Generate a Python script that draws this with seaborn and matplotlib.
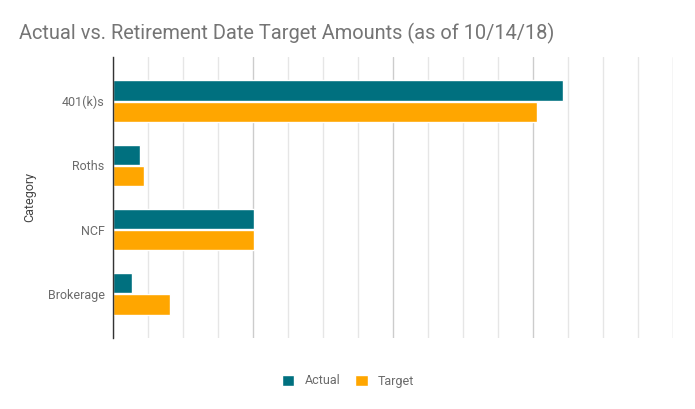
import pandas as pd
import seaborn as sns
import matplotlib.pyplot as plt
from matplotlib.ticker import MultipleLocator

# values (no axis labels shown, grid unit = 10,000)
categories = ['401(k)s', 'Roths', 'NCF', 'Brokerage']
actual = [128500, 7700, 40300, 5400]
target = [121000, 8900, 40300, 16300]

df = pd.DataFrame({
    'Category': categories * 2,
    'Amount': actual + target,
    'Series': ['Actual'] * 4 + ['Target'] * 4,
})

sns.set_theme(style='white')
plt.rcParams['font.family'] = ['Roboto', 'DejaVu Sans']

fig = plt.figure(figsize=(6.95, 4.09), dpi=100)
ax = fig.add_axes([113 / 695, 71 / 409, 560 / 695, 281 / 409])

palette = {'Actual': '#00707f', 'Target': '#ffa600'}
sns.barplot(data=df, y='Category', x='Amount', hue='Series', orient='h',
            palette=palette, width=0.66, gap=0.03, saturation=1,
            order=categories, hue_order=['Actual', 'Target'], ax=ax)

ax.set_xlim(0, 160000)
ax.set_ylim(3.69, -0.69)
ax.xaxis.set_major_locator(MultipleLocator(40000))
ax.xaxis.set_minor_locator(MultipleLocator(10000))
ax.grid(axis='x', which='major', color='#cccccc', linewidth=1)
ax.grid(axis='x', which='minor', color='#e6e6e6', linewidth=1)
ax.set_axisbelow(True)
ax.tick_params(axis='x', which='both', length=0, labelbottom=False)
ax.tick_params(axis='y', length=0, pad=6, labelsize=9, labelcolor='#6b6b6b')
for s in ['top', 'right', 'bottom']:
    ax.spines[s].set_visible(False)
ax.spines['left'].set_color('#333333')
ax.spines['left'].set_linewidth(1)

ax.set_xlabel('')
ax.set_ylabel('Category', fontsize=9, color='#444444', labelpad=8)

fig.text(19 / 695, 1 - 33 / 409, 'Actual vs. Retirement Date Target Amounts (as of 10/14/18)',
         fontsize=14.4, color='#757575', va='center', ha='left')

handles, labels = ax.get_legend_handles_labels()
ax.get_legend().remove()
fig.legend(handles, labels, loc='center', bbox_to_anchor=(348 / 695, 28 / 409),
           ncol=2, frameon=False, fontsize=9, labelcolor='#6b6b6b',
           handlelength=1.0, handleheight=1.0, handletextpad=0.8, columnspacing=1.2)

fig.savefig('out.png', dpi=100)
